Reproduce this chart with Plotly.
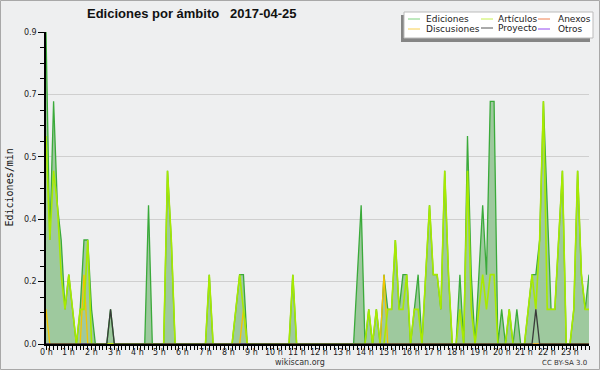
import plotly.graph_objects as go

# 10-minute bins (144 per day), values in edits/min
ediciones = [
    0.9, 0.3, 0.7, 0.4, 0.3, 0.1, 0.2, 0.1, 0.0, 0.1, 0.3, 0.3,
    0.1, 0.0, 0.0, 0.0, 0.0, 0.1, 0.0, 0.0, 0.0, 0.0, 0.0, 0.0,
    0.0, 0.0, 0.0, 0.4, 0.0, 0.0, 0.0, 0.0, 0.5, 0.3, 0.0, 0.0,
    0.0, 0.0, 0.0, 0.0, 0.0, 0.0, 0.0, 0.2, 0.0, 0.0, 0.0, 0.0,
    0.0, 0.0, 0.1, 0.2, 0.2, 0.0, 0.0, 0.0, 0.0, 0.0, 0.0, 0.0,
    0.0, 0.0, 0.0, 0.0, 0.0, 0.2, 0.0, 0.0, 0.0, 0.0, 0.0, 0.0,
    0.0, 0.0, 0.0, 0.0, 0.0, 0.0, 0.0, 0.0, 0.0, 0.0, 0.2, 0.4,
    0.0, 0.1, 0.0, 0.1, 0.0, 0.2, 0.1, 0.1, 0.3, 0.1, 0.2, 0.2,
    0.0, 0.1, 0.2, 0.0, 0.2, 0.4, 0.2, 0.2, 0.1, 0.5, 0.2, 0.0,
    0.0, 0.2, 0.0, 0.6, 0.2, 0.0, 0.2, 0.4, 0.2, 0.7, 0.7, 0.0,
    0.1, 0.0, 0.1, 0.0, 0.1, 0.0, 0.0, 0.1, 0.2, 0.2, 0.3, 0.7,
    0.4, 0.1, 0.1, 0.3, 0.5, 0.0, 0.0, 0.1, 0.5, 0.2, 0.1, 0.2,
]
articulos = [
    0.6, 0.3, 0.5, 0.4, 0.2, 0.1, 0.2, 0.1, 0.0, 0.1, 0.1, 0.3,
    0.0, 0.0, 0.0, 0.0, 0.0, 0.0, 0.0, 0.0, 0.0, 0.0, 0.0, 0.0,
    0.0, 0.0, 0.0, 0.0, 0.0, 0.0, 0.0, 0.0, 0.5, 0.3, 0.0, 0.0,
    0.0, 0.0, 0.0, 0.0, 0.0, 0.0, 0.0, 0.2, 0.0, 0.0, 0.0, 0.0,
    0.0, 0.0, 0.1, 0.2, 0.1, 0.0, 0.0, 0.0, 0.0, 0.0, 0.0, 0.0,
    0.0, 0.0, 0.0, 0.0, 0.0, 0.2, 0.0, 0.0, 0.0, 0.0, 0.0, 0.0,
    0.0, 0.0, 0.0, 0.0, 0.0, 0.0, 0.0, 0.0, 0.0, 0.0, 0.0, 0.0,
    0.0, 0.1, 0.0, 0.1, 0.0, 0.0, 0.1, 0.1, 0.3, 0.1, 0.1, 0.2,
    0.0, 0.1, 0.1, 0.0, 0.2, 0.4, 0.2, 0.2, 0.1, 0.5, 0.2, 0.0,
    0.0, 0.1, 0.0, 0.5, 0.1, 0.0, 0.1, 0.2, 0.1, 0.2, 0.2, 0.0,
    0.0, 0.0, 0.1, 0.0, 0.0, 0.0, 0.0, 0.1, 0.2, 0.1, 0.3, 0.7,
    0.1, 0.1, 0.1, 0.3, 0.5, 0.0, 0.0, 0.1, 0.5, 0.2, 0.1, 0.1,
]
discusiones = [0.0] * 144
for i, v in [(0, 0.1), (10, 0.2), (52, 0.1), (89, 0.2)]:
    discusiones[i] = v
proyecto = [0.0] * 144
for i, v in [(17, 0.1), (129, 0.1)]:
    proyecto[i] = v
anexos = [0.0] * 144
otros = [0.0] * 144

hours = [i / 6 for i in range(144)]
hour_ticks = list(range(24))
hour_labels = [f"{h} h" for h in hour_ticks]
y_ticks = [0, 0.18, 0.36, 0.54, 0.72, 0.9]
y_labels = ["0.0", "0.2", "0.4", "0.5", "0.7", "0.9"]

C_ED = "#3aaa3a"
C_FILL = "#9ec99e"
C_ART = "#a8ea00"
C_DIS = "#f5c400"
C_PRO = "#3a3a3a"
C_ANE = "#f08050"
C_OTR = "#9448f0"

fig = go.Figure()
fig.add_trace(go.Scatter(x=hours, y=ediciones, mode="lines", fill="tozeroy",
                         fillcolor=C_FILL, line=dict(color=C_ED, width=1.3),
                         name="Ediciones"))
fig.add_trace(go.Scatter(x=hours, y=anexos, mode="lines", line=dict(color=C_ANE, width=1.3), name="Anexos"))
fig.add_trace(go.Scatter(x=hours, y=otros, mode="lines", line=dict(color=C_OTR, width=1.3), name="Otros"))
fig.add_trace(go.Scatter(x=hours, y=discusiones, mode="lines", line=dict(color=C_DIS, width=1.3), name="Discusiones"))
fig.add_trace(go.Scatter(x=hours, y=articulos, mode="lines", line=dict(color=C_ART, width=1.6), name="Artículos"))
fig.add_trace(go.Scatter(x=hours, y=proyecto, mode="lines", line=dict(color=C_PRO, width=1.3), name="Proyecto"))

L, R, T, B = 46, 11, 32, 26
W, H = 600, 370
PW, PH = W - L - R, H - T - B


def px(x):
    return (x - L) / PW


def py(y):
    return (H - B - y) / PH


shapes = []
annotations = []
# outer border
shapes.append(dict(type="rect", xref="paper", yref="paper", x0=px(0.5), x1=px(599.5),
                   y0=py(0.5), y1=py(369.5), line=dict(color="#a8a8a8", width=1)))
# legend box with shadow
shapes.append(dict(type="rect", xref="paper", yref="paper", x0=px(401), x1=px(590),
                   y0=py(15), y1=py(42), fillcolor="#858585", line=dict(width=0)))
shapes.append(dict(type="rect", xref="paper", yref="paper", x0=px(404), x1=px(593),
                   y0=py(12), y1=py(38), fillcolor="white", line=dict(color="#bbbbbb", width=1)))

legend_items = [
    ("Ediciones", "#7fd27f", 408, 424, 19),
    ("Artículos", "#c6f050", 481, 496, 19),
    ("Anexos", C_ANE, 538, 556, 19),
    ("Discusiones", "#f8d050", 408, 424, 29),
    ("Proyecto", "#555555", 481, 496, 28),
    ("Otros", C_OTR, 538, 556, 29),
]
for name, col, lx, tx, ly in legend_items:
    shapes.append(dict(type="line", xref="paper", yref="paper", x0=px(lx), x1=px(lx + 12),
                       y0=py(ly), y1=py(ly), line=dict(color=col, width=1)))
    annotations.append(dict(text=name, xref="paper", yref="paper", x=px(tx), y=py(ly),
                            xanchor="left", yanchor="middle", showarrow=False,
                            font=dict(family="DejaVu Sans", size=9, color="#222")))

# hour labels on the x axis (placed close under the ticks, as in the original)
for hv, lab in zip(hour_ticks, hour_labels):
    annotations.append(dict(text=lab, xref="x", yref="paper", x=hv, y=py(352),
                            xanchor="center", yanchor="middle", showarrow=False,
                            font=dict(family="DejaVu Sans", size=8, color="#222")))

annotations.append(dict(text="<b>Ediciones por ámbito   2017-04-25</b>", xref="paper", yref="paper",
                        x=px(85), y=py(13.5), xanchor="left", yanchor="middle", showarrow=False,
                        font=dict(family="Liberation Sans", size=13, color="#111")))
annotations.append(dict(text="Ediciones/min", xref="paper", yref="paper", x=px(8.5), y=py(188),
                        xanchor="center", yanchor="middle", textangle=-90, showarrow=False,
                        font=dict(family="DejaVu Sans Mono", size=10, color="#111")))
annotations.append(dict(text="wikiscan.org", xref="paper", yref="paper", x=px(300), y=py(362.5),
                        xanchor="center", yanchor="middle", showarrow=False,
                        font=dict(family="DejaVu Sans", size=8, color="#333")))
annotations.append(dict(text="CC BY-SA 3.0", xref="paper", yref="paper", x=px(589), y=py(362.5),
                        xanchor="right", yanchor="middle", showarrow=False,
                        font=dict(family="DejaVu Sans", size=7, color="#333")))

fig.update_layout(
    width=W, height=H,
    margin=dict(l=L, r=R, t=T, b=B, pad=0),
    paper_bgcolor="#eeeff0", plot_bgcolor="#eeeff0",
    showlegend=False,
    shapes=shapes, annotations=annotations,
    xaxis=dict(range=[0, 143 / 6], tickmode="array", tickvals=hour_ticks, ticktext=[""] * 24,
               ticks="outside", ticklen=4, tickcolor="black", showline=True, linecolor="black",
               linewidth=1.5, showgrid=False, zeroline=False,
               tickfont=dict(family="DejaVu Sans", size=8, color="#222"),
               minor=dict(tick0=0, dtick=1 / 6, ticks="outside", ticklen=4, tickcolor="black")),
    yaxis=dict(range=[0, 0.9], tickmode="array", tickvals=y_ticks, ticktext=y_labels,
               ticks="outside", ticklen=6, tickcolor="black", showline=True, linecolor="black",
               linewidth=1.5, showgrid=True, gridcolor="#cfcfcf", gridwidth=1, zeroline=False,
               tickfont=dict(family="DejaVu Sans", size=8, color="#222"),
               minor=dict(tick0=0, dtick=0.045, ticks="outside", ticklen=4, tickcolor="black",
                          showgrid=False)),
)

fig.write_html("out.html", config={"displayModeBar": False},
               post_script="document.body.style.margin='0';document.body.style.overflow='hidden';")
